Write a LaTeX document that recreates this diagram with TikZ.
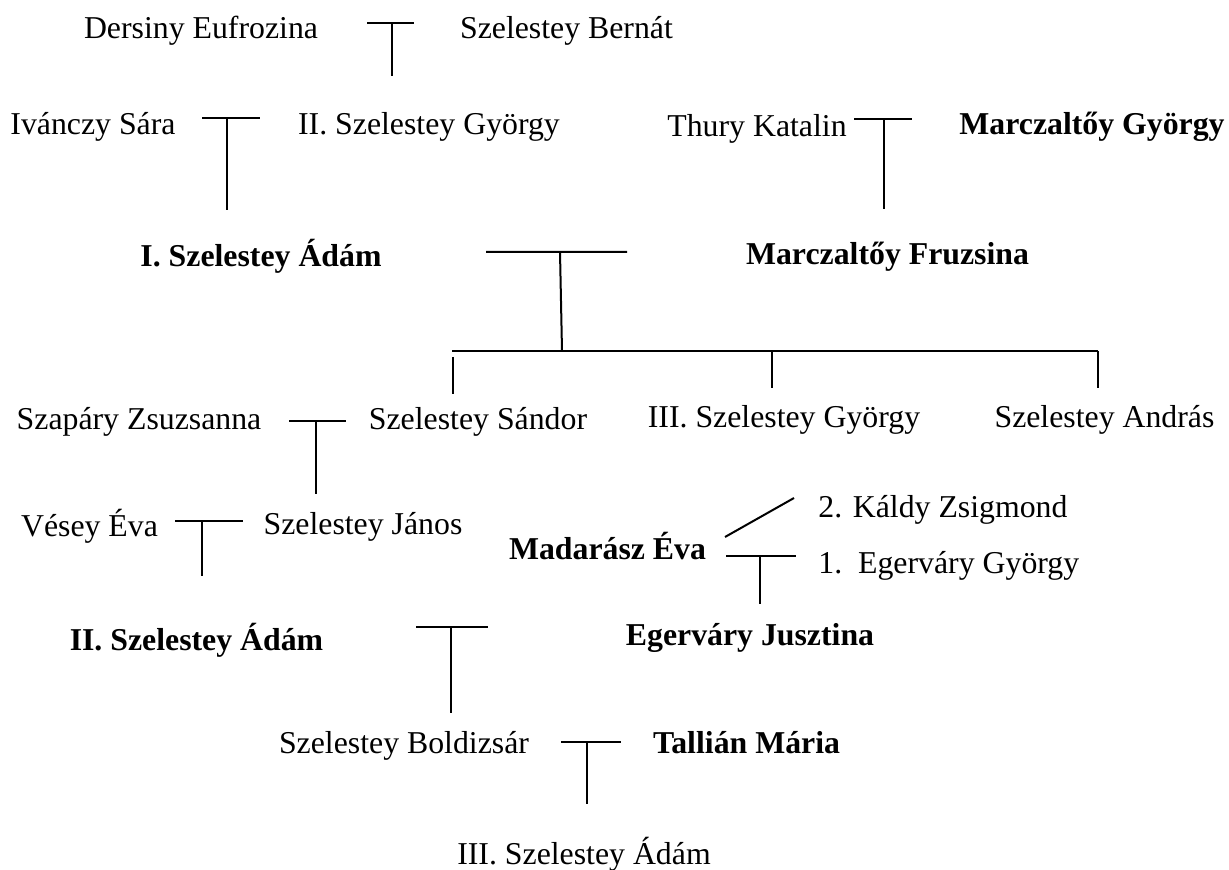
\documentclass[tikz,border=0pt]{standalone}
\usepackage{fontspec}
\setmainfont{Liberation Serif}
\begin{document}
\begin{tikzpicture}[x=0.5pt,y=-0.5pt,
  nm/.style={inner sep=0pt,anchor=base,font=\fontsize{15.9pt}{19pt}\selectfont},
  nb/.style={nm,font=\fontsize{15.9pt}{19pt}\selectfont\bfseries},
  ln/.style={line width=1pt,line cap=butt}]
\useasboundingbox (0,0) rectangle (1229,870);
% names
\node[nm] (n1) at (201,39) {Dersiny Eufrozina};
\node[nm] (n2) at (566.5,39) {Szelestey Bernát};
\node[nm] (n3) at (93,135) {Ivánczy Sára};
\node[nm] (n4) at (429,135) {II. Szelestey György};
\node[nm] (n5) at (757,137) {Thury Katalin};
\node[nb] (n6) at (1092,135) {Marczaltőy György};
\node[nb] (n7) at (261,267) {I. Szelestey Ádám};
\node[nb] (n8) at (887.5,265) {Marczaltőy Fruzsina};
\node[nm] (n9) at (139,430) {Szapáry Zsuzsanna};
\node[nm] (n10) at (478,430) {Szelestey Sándor};
\node[nm] (n11) at (784,428) {III. Szelestey György};
\node[nm] (n12) at (1104.5,428) {Szelestey András};
\node[nm] (n13) at (89.5,537) {Vésey Éva};
\node[nm] (n14) at (363,534) {Szelestey János};
\node[nb] (n15) at (607.5,559) {Madarász Éva};
\node[nm,anchor=base west] (n16) at (818,517) {2. Káldy Zsigmond};
\node[nm,anchor=base west] (n17) at (818,573) {1.\hspace{0.5em}Egerváry György};
\node[nb] (n18) at (750,645) {Egerváry Jusztina};
\node[nb] (n19) at (196.5,650) {II. Szelestey Ádám};
\node[nm] (n20) at (404,753) {Szelestey Boldizsár};
\node[nb] (n21) at (746.5,753) {Tallián Mária};
\node[nm] (n22) at (584,864) {III. Szelestey Ádám};
% junction points
\coordinate (t1l) at (367,23); \coordinate (t1r) at (414,23);
\coordinate (t1t) at (392,23); \coordinate (t1b) at (392,76);
\coordinate (t2l) at (202,118); \coordinate (t2r) at (260,118);
\coordinate (t2t) at (227,118); \coordinate (t2b) at (227,210);
\coordinate (t3l) at (854,119); \coordinate (t3r) at (912,119);
\coordinate (t3t) at (884,119); \coordinate (t3b) at (884,209);
\coordinate (t4l) at (486,252); \coordinate (t4r) at (627,252);
\coordinate (t4t) at (560,252); \coordinate (t4b) at (562,351);
\coordinate (barl) at (452,351); \coordinate (barr) at (1098,351);
\coordinate (d1t) at (453,357); \coordinate (d1b) at (453,394);
\coordinate (d2t) at (772,351); \coordinate (d2b) at (772,388);
\coordinate (d3t) at (1098,351); \coordinate (d3b) at (1098,388);
\coordinate (t5l) at (289,421); \coordinate (t5r) at (346,421);
\coordinate (t5t) at (316,421); \coordinate (t5b) at (316,494);
\coordinate (t6l) at (175,521); \coordinate (t6r) at (243,521);
\coordinate (t6t) at (202,521); \coordinate (t6b) at (202,576);
\coordinate (dga) at (725,537); \coordinate (dgb) at (794,498);
\coordinate (t7l) at (726,556); \coordinate (t7r) at (796,556);
\coordinate (t7t) at (760,556); \coordinate (t7b) at (760,604);
\coordinate (t8l) at (416,627); \coordinate (t8r) at (488,627);
\coordinate (t8t) at (451,627); \coordinate (t8b) at (451,713);
\coordinate (t9l) at (561,742); \coordinate (t9r) at (621,742);
\coordinate (t9t) at (587,742); \coordinate (t9b) at (587,804);
% connectors
\draw[ln] (t1l)--(t1r) (t1t)--(t1b);
\draw[ln] (t2l)--(t2r) (t2t)--(t2b);
\draw[ln] (t3l)--(t3r) (t3t)--(t3b);
\draw[ln] (t4l)--(t4r) (t4t)--(t4b);
\draw[ln] (barl)--(barr) (d1t)--(d1b) (d2t)--(d2b) (d3t)--(d3b);
\draw[ln] (t5l)--(t5r) (t5t)--(t5b);
\draw[ln] (t6l)--(t6r) (t6t)--(t6b);
\draw[ln] (dga)--(dgb);
\draw[ln] (t7l)--(t7r) (t7t)--(t7b);
\draw[ln] (t8l)--(t8r) (t8t)--(t8b);
\draw[ln] (t9l)--(t9r) (t9t)--(t9b);
\end{tikzpicture}
\end{document}
